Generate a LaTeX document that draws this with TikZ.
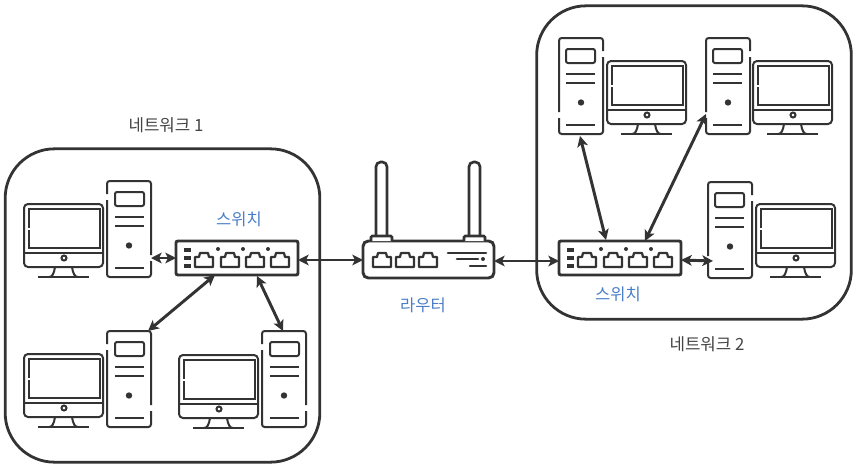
\documentclass[tikz,border=0pt]{standalone}
\usepackage{fontspec}
\setmainfont{Noto Sans CJK KR}
\usepackage{xcolor}
\usepackage{tikz}
\usetikzlibrary{arrows.meta}
\definecolor{inkgray}{HTML}{333333}
\definecolor{labelblue}{HTML}{4A7EC7}
\definecolor{labelgray}{HTML}{444444}

\tikzset{
  pics/port/.style={code={
    \draw[line width=1.7pt,line join=round] (0,5) -- (4,5) -- (5,1) -- (13,1) -- (14,5) -- (18,5) -- (18,15) -- (0,15) -- cycle;
  }},
  pics/tower/.style={code={
    \node[devicebox,minimum width=33pt,minimum height=72pt] (-box) at (22,48) {};
    \draw[rounded corners=2pt] (0,13) -- (0,0) -- (44,0) -- (44,74);
    \draw[rounded corners=2pt] (44,80) -- (44,96) -- (0,96) -- (0,19);
    \draw[rounded corners=1.5pt] (8,11) rectangle (37,25);
    \draw[line width=1.6pt] (8,36) -- (37,36);
    \draw[line width=1.6pt] (8,45) -- (37,45);
    \draw[line width=1.6pt] (8,87) -- (37,87);
    \fill (22,64.5) circle (3.2);
  }},
  pics/monitor/.style={code={
    \draw[rounded corners=3pt] (0,0) rectangle (79,63);
    \draw (0,49) -- (79,49);
    \draw (5,24) -- (5,5) -- (76,5) -- (76,44) -- (5,44) -- (5,26);
    \draw (40,54) circle (2.5);
    \draw (14,73) -- (65,73);
    \draw (31,63) .. controls (30,70) and (28,73) .. (25,73);
    \draw (48,63) .. controls (49,70) and (51,73) .. (54,73);
  }},
  pics/switchicon/.style={code={
    \node[devicebox,draw,line width=2.2pt,rounded corners=1.5pt,minimum width=91.5pt,minimum height=25.5pt] (-box) at (61,17) {};
    \foreach \ledy in {9,17,25}
      \draw[line width=2.6pt] (8,\ledy) -- (15,\ledy);
    \foreach \portx in {19,45,70,95}
      \pic at (\portx,11) {port};
    \foreach \dotx in {42,67,92}
      \fill (\dotx,8) circle (2);
  }},
  pics/routericon/.style={code={
    \node[devicebox,draw,line width=2.2pt,rounded corners=4pt,minimum width=98.25pt,minimum height=27.75pt] (-box) at (65.5,18.5) {};
    \foreach \antx in {13,106}{
      \draw[line width=2pt,rounded corners=3.5pt] (\antx,-5) -- (\antx,-79) -- (\antx+11,-79) -- (\antx+11,-5);
      \draw[line width=2pt,fill=white,rounded corners=1pt] (\antx-5,0) -- (\antx-5,-5) -- (\antx+16,-5) -- (\antx+16,0);
    }
    \foreach \portx in {10,33,56}
      \pic at (\portx,11) {port};
    \draw[line width=1.9pt,line cap=round] (85,12) -- (123,12);
    \draw[line width=1.9pt,line cap=round] (94,18) -- (115,18);
    \draw[line width=1.9pt,line cap=round] (107,25) -- (123,25);
    \fill (120,18) circle (2);
  }},
  devicebox/.style={rectangle,outer sep=0pt,inner sep=0pt},
  frame/.style={rectangle,draw,line width=2.1pt,rounded corners=37pt,outer sep=0pt,minimum width=236pt,minimum height=235pt},
  link/.style={line width=2.2pt,{Stealth[length=8pt,width=8pt,inset=2pt]}-{Stealth[length=8pt,width=8pt,inset=2pt]}},
  bluelabel/.style={font=\fontsize{12.4}{14}\selectfont,text=labelblue,inner sep=0pt},
  graylabel/.style={font=\fontsize{12.6}{14}\selectfont,text=labelgray,inner sep=0pt}
}

\begin{document}
\begin{tikzpicture}[x=.75pt,y=-.75pt,color=inkgray,line width=1.5pt]
  \useasboundingbox (0,0) rectangle (857,468);

  \node[frame] (net1) at (162.5,305.5) {};
  \node[frame] (net2) at (694,162.5) {};

  \pic (tw1) at (107,181) {tower};
  \pic (mon1) at (24,204) {monitor};
  \pic (tw2) at (107,331) {tower};
  \pic (mon2) at (24,354) {monitor};
  \pic (tw3) at (262,331) {tower};
  \pic (mon3) at (179,355) {monitor};

  \pic[xscale=-1] (tw4) at (603,38) {tower};
  \pic (mon4) at (607,61) {monitor};
  \pic[xscale=-1] (tw5) at (750,38) {tower};
  \pic (mon5) at (753,61) {monitor};
  \pic[xscale=-1] (tw6) at (752,182) {tower};
  \pic (mon6) at (756,204) {monitor};

  \pic (sw1) at (176,241) {switchicon};
  \pic (sw2) at (559,241) {switchicon};
  \pic (rt) at (363,241) {routericon};

  \draw[link] ([shift={(0,-19)}]tw1-box.south east) -- ([shift={(0,17)}]sw1-box.north west);
  \draw[link] ([shift={(0,-15)}]sw1-box.south east) -- ([shift={(0,19)}]rt-box.north west);
  \draw[link] ([shift={(0,-17)}]rt-box.south east) -- ([shift={(0,20)}]sw2-box.north west);
  \draw[link] ([shift={(39,0)}]sw1-box.south west) -- ([shift={(-3,0)}]tw2-box.north east);
  \draw[link] ([shift={(-41,1)}]sw1-box.south east) -- ([shift={(21,0)}]tw3-box.north west);
  \draw[link] ([shift={(47,-1)}]sw2-box.north west) -- ([shift={(-1,2)}]tw4-box.south);
  \draw[link] ([shift={(86,0)}]sw2-box.north west) -- ([shift={(0,76)}]tw5-box.north west);
  \draw[link] ([shift={(0,-15)}]sw2-box.south east) -- ([shift={(5,79)}]tw6-box.north west);

  \node[bluelabel] (sw1label) at (239,219) {스위치};
  \node[bluelabel] (sw2label) at (618,294) {스위치};
  \node[bluelabel] (rtlabel) at (423,305) {라우터};
  \node[graylabel] (net1label) at (166,125) {네트워크 1};
  \node[graylabel] (net2label) at (707,344) {네트워크 2};
\end{tikzpicture}
\end{document}
